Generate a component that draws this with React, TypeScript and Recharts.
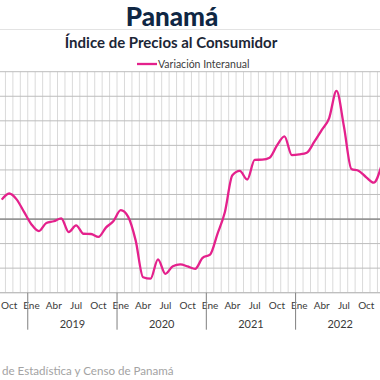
import { LineChart, Line, XAxis, YAxis, CartesianGrid, ReferenceLine } from 'recharts'

const MESES = ['Ene', 'Feb', 'Mar', 'Abr', 'May', 'Jun', 'Jul', 'Ago', 'Sep', 'Oct', 'Nov', 'Dic']
const MESES_ETIQUETA = ['Ene', 'Abr', 'Jul', 'Oct']
const ANIOS = [2018, 2019, 2020, 2021, 2022]
const MES_INICIO = 8 // la serie visible empieza en Sep 2018

// Variación interanual del IPC (%)
const var2018 = [0.79, 1.04, 0.8, 0.29]
const var2019 = [-0.22, -0.49, -0.16, -0.09, 0.03, -0.53, -0.26, -0.6, -0.61, -0.73, -0.35, -0.09]
const var2020 = [0.36, 0.09, -0.87, -2.37, -2.43, -1.64, -2.23, -1.92, -1.85, -1.93, -2.03, -1.58]
const var2021 = [-1.45, -0.6, 0.29, 1.78, 1.96, 1.61, 2.41, 2.42, 2.5, 3.0, 3.37, 2.6]
const var2022 = [2.63, 2.7, 3.14, 3.62, 4.1, 5.22, 3.76, 2.04, 1.96, 1.7, 1.48, 2.13]

const Y_TICKS = [-3, -2, -1, 0, 1, 2, 3, 4, 5, 6]

type Fila = { key: string; mes: string; anio: number; valor: number }

const series = [var2018, var2019, var2020, var2021, var2022]
const data: Fila[] = []
series.forEach((vals, i) => {
    const primero = i === 0 ? MES_INICIO : 0
    vals.forEach((v, j) => {
        const mes = MESES[primero + j]
        data.push({ key: `${mes} ${ANIOS[i]}`, mes, anio: ANIOS[i], valor: v })
    })
})

const N = data.length
const CHART_W = 386.9
const CHART_LEFT = -2.48
const STEP = CHART_W / N
const ROSA = '#e4218c'
const FUENTE = 'Lato, "Open Sans", sans-serif'

function MesTick(props: any) {
    const { x, y, payload } = props
    const fila = data[payload.index]
    if (!fila) return null
    return (
        <g>
            {MESES_ETIQUETA.includes(fila.mes) && (
                <text x={x} y={y + 16.5} textAnchor="middle" fontSize={10} fill="#3a3a3a" fontFamily={FUENTE}>
                    {fila.mes}
                </text>
            )}
            {fila.mes === 'Ene' && (
                <line x1={x - STEP / 2} x2={x - STEP / 2} y1={y} y2={y + 37} stroke="#808080" strokeWidth={1} />
            )}
            {fila.mes === 'Jul' && (
                <text x={x - STEP / 2} y={y + 35} textAnchor="middle" fontSize={11} fill="#3a3a3a" fontFamily={FUENTE}>
                    {fila.anio}
                </text>
            )}
        </g>
    )
}

export default function App() {
    return (
        <div
            style={{
                position: 'absolute',
                left: 0,
                top: 0,
                width: 380,
                height: 380,
                overflow: 'hidden',
                background: '#fff',
                fontFamily: FUENTE,
            }}
        >
            <div style={{ position: 'absolute', left: CHART_LEFT, top: 0 }}>
                <LineChart
                    width={CHART_W}
                    height={380}
                    data={data}
                    margin={{ top: 71.7, right: 0, bottom: 37.3, left: 0 }}
                >
                    <CartesianGrid
                        horizontal={false}
                        stroke="#dadada"
                        verticalCoordinatesGenerator={({ offset }: any) =>
                            Array.from({ length: N + 1 }, (_, i) => offset.left + (i * offset.width) / N)
                        }
                    />
                    <CartesianGrid vertical={false} stroke="#bdbdbd" />
                    <XAxis
                        dataKey="key"
                        interval={0}
                        height={50}
                        tickSize={0}
                        tickMargin={0}
                        tickLine={false}
                        axisLine={{ stroke: '#bdbdbd' }}
                        padding={{ left: STEP / 2, right: STEP / 2 }}
                        tick={<MesTick />}
                    />
                    <YAxis hide domain={[-3, 6]} ticks={Y_TICKS} />
                    <ReferenceLine y={0} stroke="#7f7f7f" strokeWidth={1.3} />
                    <Line
                        type="monotone"
                        dataKey="valor"
                        stroke={ROSA}
                        strokeWidth={2.3}
                        dot={false}
                        isAnimationActive={false}
                    />
                </LineChart>
            </div>
            <svg width={380} height={380} style={{ position: 'absolute', left: 0, top: 0, pointerEvents: 'none' }}>
                <text x={172} y={26} textAnchor="middle" fontSize={26} fontWeight={900} fill="#0f2744" fontFamily={FUENTE}>
                    Panamá
                </text>
                <line x1={0} x2={380} y1={29.5} y2={29.5} stroke="#e3e3e3" strokeWidth={1} />
                <text x={171} y={48} textAnchor="middle" fontSize={15} fontWeight={700} fill="#1c2636" fontFamily={FUENTE}>
                    Índice de Precios al Consumidor
                </text>
                <line x1={137} x2={157} y1={64} y2={64} stroke={ROSA} strokeWidth={2.3} />
                <text x={158} y={67.5} fontSize={10.5} fill="#404040" fontFamily={FUENTE}>
                    Variación Interanual
                </text>
                <text x={2} y={375} fontSize={11.6} fill="#a3a3a3" fontFamily={FUENTE}>
                    de Estadística y Censo de Panamá
                </text>
            </svg>
        </div>
    )
}
